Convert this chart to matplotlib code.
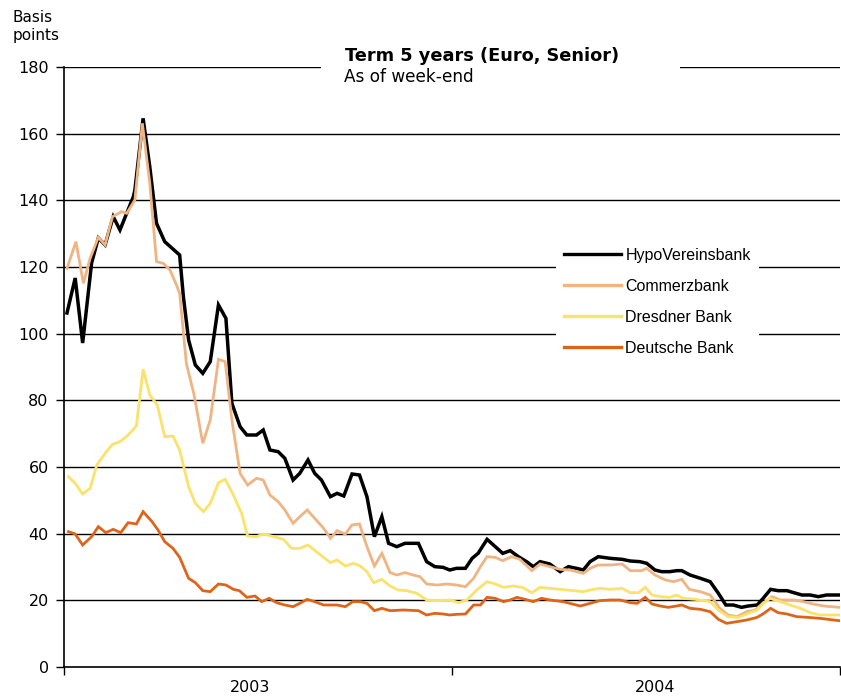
"""Five-year senior CDS spreads of German banks, weekly, 2003-2004."""
import matplotlib
matplotlib.use("Agg")
import matplotlib.pyplot as plt
from matplotlib.patches import Rectangle

# x positions are weeks since the first week-end shown
HVB_WEEK = [0.4, 1.5, 2.5, 3.7, 4.6, 5.5, 6.6, 7.5, 9.3, 9.5, 10.6, 11.5, 12.4, 13.5,
            15.5, 16.0, 16.7, 17.6, 18.6, 19.6, 20.7, 21.7, 22.5, 23.6, 24.5, 25.8,
            26.7, 27.6, 28.7, 29.6, 30.7, 31.6, 32.7, 33.6, 34.5, 35.7, 36.6, 37.5,
            38.6, 39.6, 40.6, 41.6, 42.6, 43.5, 44.6, 45.7, 47.5, 48.6, 49.7, 50.8,
            51.7, 52.6, 53.8, 54.7, 55.5, 56.7, 57.8, 58.8, 59.8, 60.9, 62.0, 62.9,
            63.8, 65.1, 66.5, 67.6, 68.7, 69.6, 70.5, 71.6, 73.2, 74.8, 75.9, 77.2,
            78.1, 79.2, 80.1, 81.2, 82.1, 82.8, 83.9, 85.3, 86.6, 87.7, 88.7, 89.7,
            90.8, 91.7, 92.9, 93.7, 94.7, 95.7, 96.9, 97.8, 98.9, 100.0, 101.1, 102.2,
            103.3, 103.9]
HVB = [106.2, 116.7, 97.2, 121.2, 128.7, 126.6, 135.1, 131.1, 141.1, 143.1, 164.6, 150.0,
       133.1, 127.6, 123.6, 111.1, 98.1, 90.6, 88.1, 91.6, 108.6, 104.6, 79.1, 72.1,
       69.6, 69.6, 71.1, 65.1, 64.6, 62.6, 56.1, 58.1, 62.1, 58.1, 56.1, 51.1, 52.1,
       51.3, 57.9, 57.6, 51.1, 39.1, 45.1, 37.1, 36.1, 37.1, 37.1, 31.6, 30.1, 29.9,
       29.1, 29.6, 29.6, 32.6, 34.1, 38.3, 36.1, 34.1, 34.9, 33.1, 31.6, 30.1, 31.6,
       30.9, 28.6, 30.1, 29.6, 29.1, 31.6, 33.1, 32.6, 32.3, 31.8, 31.6, 31.1, 29.1,
       28.6, 28.6, 28.9, 28.9, 27.6, 26.6, 25.6, 22.1, 18.6, 18.6, 17.9, 18.3, 18.6,
       20.6, 23.3, 22.9, 22.9, 22.3, 21.6, 21.6, 21.1, 21.6, 21.6, 21.6]

CBK_WEEK = [0.4, 1.6, 2.6, 3.5, 4.6, 5.5, 6.5, 7.7, 8.4, 9.5, 10.5, 11.5, 12.4, 13.3,
            14.2, 15.0, 15.5, 16.4, 17.4, 18.6, 19.6, 20.7, 21.6, 22.5, 23.6, 24.6,
            25.8, 26.7, 27.6, 28.7, 29.6, 30.7, 31.6, 32.6, 33.6, 34.8, 35.7, 36.6,
            37.7, 38.6, 39.6, 40.6, 41.6, 42.6, 43.7, 44.6, 45.7, 46.8, 47.7, 48.6,
            50.0, 51.3, 52.6, 53.8, 54.9, 55.8, 56.7, 57.8, 58.8, 60.0, 61.1, 62.7,
            63.8, 65.1, 66.5, 67.8, 69.6, 70.5, 71.6, 73.2, 74.8, 75.9, 77.4, 78.1,
            79.2, 80.6, 81.7, 82.8, 83.8, 85.3, 86.6, 87.9, 89.0, 90.2, 91.5, 92.6,
            93.7, 94.9, 96.0, 97.8, 99.1, 100.4, 101.8, 103.9]
CBK = [119.6, 127.6, 115.1, 122.6, 128.9, 126.6, 135.1, 136.6, 136.1, 140.1, 163.1,
       145.1, 121.6, 121.1, 119.1, 115.0, 112.1, 91.0, 82.0, 67.1, 74.1, 92.3, 91.6,
       74.1, 58.1, 54.6, 56.6, 56.1, 51.6, 49.6, 47.1, 43.1, 45.1, 47.1, 44.6, 41.6,
       38.6, 40.9, 39.9, 42.6, 42.9, 36.1, 30.3, 34.1, 28.3, 27.6, 28.3, 27.6, 27.1,
       24.9, 24.6, 24.9, 24.6, 24.1, 26.6, 30.1, 33.1, 32.9, 31.9, 33.1, 32.3, 28.9,
       30.9, 30.1, 29.3, 29.1, 28.1, 29.6, 30.6, 30.6, 30.9, 28.9, 28.9, 29.6, 27.6,
       26.1, 25.6, 26.3, 23.3, 22.6, 21.6, 17.6, 15.6, 15.1, 16.6, 17.1, 19.1, 21.1,
       20.1, 20.1, 19.6, 18.9, 18.3, 17.9]

DRB_WEEK = [0.6, 1.5, 2.5, 3.5, 4.4, 5.5, 6.5, 7.5, 8.6, 9.7, 10.6, 11.5, 12.5, 13.5,
            14.6, 15.5, 16.7, 17.6, 18.7, 19.6, 20.7, 21.6, 22.7, 23.8, 24.6, 25.8,
            26.7, 27.8, 29.4, 30.5, 31.6, 32.7, 34.1, 35.7, 36.6, 37.7, 38.8, 39.7,
            40.6, 41.5, 42.6, 43.7, 44.8, 45.9, 47.3, 48.6, 50.0, 51.7, 52.9, 54.0,
            55.3, 56.7, 57.8, 58.9, 60.2, 61.4, 62.7, 63.8, 65.1, 66.5, 68.3, 69.6,
            70.5, 71.8, 73.2, 74.8, 75.9, 77.0, 77.9, 78.8, 79.9, 81.2, 82.1, 83.0,
            84.6, 86.6, 87.7, 89.0, 90.4, 91.5, 92.9, 93.7, 94.6, 96.0, 97.3, 98.7,
            100.0, 101.3, 103.9]
DRB = [57.1, 55.1, 51.9, 53.6, 60.6, 64.1, 66.8, 67.6, 69.6, 72.3, 89.3, 81.6, 78.6,
       69.1, 69.3, 65.1, 54.1, 49.1, 46.6, 49.1, 55.3, 56.3, 51.6, 46.1, 39.3, 39.1,
       39.9, 39.3, 38.3, 35.6, 35.6, 36.6, 34.1, 31.3, 32.1, 30.3, 31.1, 30.3, 28.6,
       25.3, 26.3, 24.3, 23.1, 22.9, 22.1, 20.1, 19.9, 20.1, 19.3, 20.1, 23.1, 25.6,
       24.9, 23.9, 24.3, 23.9, 22.3, 23.9, 23.6, 23.3, 22.9, 22.6, 23.1, 23.6, 23.3,
       23.6, 22.3, 22.3, 23.9, 21.6, 21.1, 20.9, 21.6, 20.6, 20.3, 19.6, 17.1, 15.1,
       14.9, 15.9, 17.1, 19.1, 20.6, 19.6, 18.6, 17.6, 16.3, 15.6, 15.6]

DBK_WEEK = [0.6, 1.5, 2.5, 3.7, 4.6, 5.6, 6.6, 7.6, 8.6, 9.7, 10.6, 11.8, 12.6, 13.5,
            14.6, 15.5, 16.7, 17.6, 18.6, 19.6, 20.7, 21.7, 22.7, 23.5, 24.5, 25.6,
            26.5, 27.5, 28.5, 29.6, 30.7, 31.6, 32.6, 33.6, 34.8, 36.6, 37.7, 38.7,
            39.7, 40.6, 41.6, 42.6, 43.7, 45.5, 47.5, 48.6, 49.7, 50.8, 51.7, 52.6,
            53.8, 54.9, 55.8, 56.7, 57.8, 58.9, 59.8, 60.7, 61.8, 62.9, 64.0, 65.1,
            66.9, 69.2, 70.5, 71.8, 73.2, 74.5, 75.9, 76.8, 77.9, 78.8, 79.9, 81.0,
            82.1, 82.8, 83.9, 85.3, 86.6, 87.7, 88.8, 90.2, 91.5, 92.9, 93.8, 94.7,
            95.7, 96.9, 98.2, 99.6, 101.3, 103.9]
DBK = [40.6, 39.9, 36.6, 39.1, 42.1, 40.3, 41.3, 40.3, 43.3, 42.9, 46.6, 43.6, 41.1,
       37.6, 35.6, 32.9, 26.6, 25.3, 22.9, 22.6, 24.9, 24.6, 23.3, 22.9, 20.9, 21.3,
       19.6, 20.6, 19.3, 18.6, 18.1, 19.1, 20.3, 19.6, 18.6, 18.6, 18.1, 19.6, 19.6,
       19.1, 16.9, 17.6, 16.9, 17.1, 16.9, 15.6, 16.1, 15.9, 15.6, 15.8, 15.9, 18.6,
       18.6, 20.9, 20.6, 19.6, 20.1, 20.9, 20.3, 19.6, 20.6, 20.1, 19.6, 18.3, 19.1,
       19.9, 20.1, 20.1, 19.3, 19.1, 20.9, 18.9, 18.3, 17.9, 18.3, 18.6, 17.6, 17.3,
       16.6, 14.3, 13.1, 13.6, 14.1, 14.9, 16.1, 17.6, 16.3, 15.9, 15.1, 14.9, 14.6,
       13.9]

BANKS = ["HypoVereinsbank", "Commerzbank", "Dresdner Bank", "Deutsche Bank"]
COLORS = ["#000000", "#F0B483", "#FBE26A", "#DD6519"]
YEAR_LABELS = ["2003", "2004"]
YEAR_CENTERS = [25.0, 79.2]
YEAR_BOUNDS = [0, 52, 104]

TITLE = "Term 5 years (Euro, Senior)"
SUBTITLE = "As of week-end"


def main():
    fig = plt.figure(figsize=(8.41, 6.96), dpi=100)
    ax = fig.add_axes([64 / 841, 1 - 667 / 696, 776 / 841, 600 / 696])

    series = [(HVB_WEEK, HVB), (CBK_WEEK, CBK), (DRB_WEEK, DRB), (DBK_WEEK, DBK)]
    widths = [2.5, 2.0, 2.0, 2.0]
    for (xs, ys), name, c, lw in zip(series, BANKS, COLORS, widths):
        ax.plot(xs, ys, color=c, linewidth=lw, label=name, zorder=3,
                solid_joinstyle="miter")

    ax.set_xlim(0, 104)
    ax.set_ylim(0, 180)
    ax.set_yticks(range(0, 181, 20))
    for y in range(20, 181, 20):
        ax.axhline(y, color="black", linewidth=1.0, zorder=1)

    ax.set_xticks(YEAR_BOUNDS)
    ax.set_xticklabels([])
    ax.set_xticks(YEAR_CENTERS, minor=True)
    ax.set_xticklabels(YEAR_LABELS, minor=True)
    ax.tick_params(axis="x", which="major", length=6, width=1, direction="out")
    ax.tick_params(axis="x", which="minor", length=0, pad=9, labelsize=11.5)
    ax.tick_params(axis="y", length=6, width=1, direction="out", pad=5, labelsize=11.5)

    for s in ["top", "right"]:
        ax.spines[s].set_visible(False)
    for s in ["left", "bottom"]:
        ax.spines[s].set_linewidth(1.2)

    # white panel behind the title, cutting the top gridline
    ax.add_patch(Rectangle((257 / 776, 1.025 - 0.07), 359 / 776, 0.07,
                           transform=ax.transAxes, facecolor="white",
                           edgecolor="none", zorder=4, clip_on=False))
    ax.text(281 / 776, (667 - 47) / 600, TITLE, transform=ax.transAxes,
            fontsize=12.8, fontweight="bold", va="top", ha="left", zorder=5)
    ax.text(280 / 776, (667 - 68) / 600, SUBTITLE, transform=ax.transAxes,
            fontsize=12.2, va="top", ha="left", zorder=5)

    fig.text(13 / 841, 1 - 10 / 696, "Basis\npoints", fontsize=11, va="top",
             ha="left", linespacing=1.25)

    leg = ax.legend(loc="upper left", bbox_to_anchor=(484 / 776, (667 - 232) / 600),
                    frameon=True, fancybox=False, edgecolor="none",
                    facecolor="white", framealpha=1.0, handlelength=3.6,
                    handletextpad=0.25, labelspacing=1.0, borderpad=0.5,
                    prop={"family": "Liberation Sans", "size": 11.5})
    for line in leg.get_lines():
        line.set_linewidth(2.4)
    leg.set_zorder(6)

    fig.savefig("out.png", dpi=100)


if __name__ == "__main__":
    main()
